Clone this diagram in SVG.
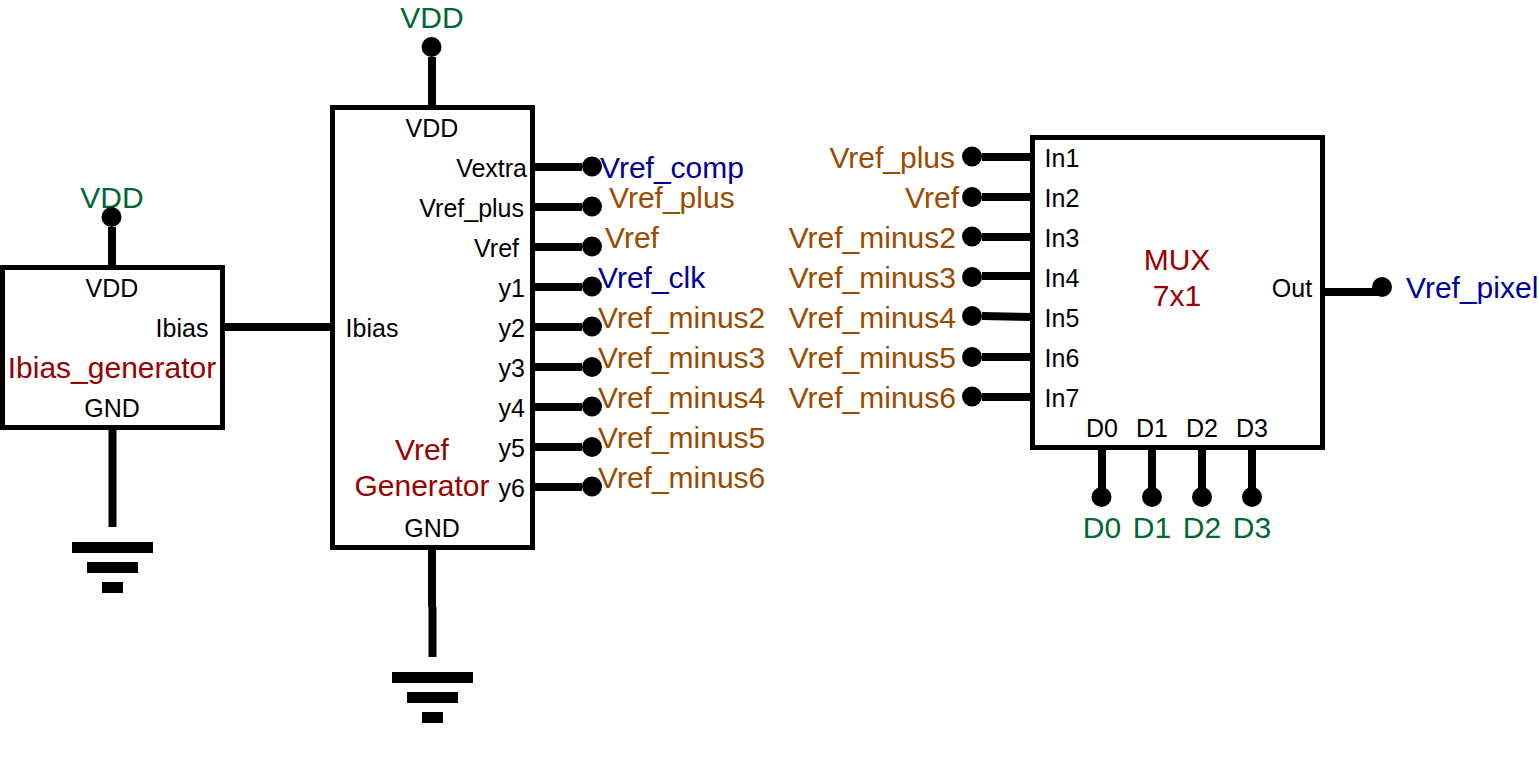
<svg xmlns="http://www.w3.org/2000/svg" width="1539" height="758" viewBox="0 0 1539 758">
<style>
text{font-family:"Liberation Sans",Arial,sans-serif}
.b{fill:#000;font-size:25px}
.l{fill:#000;font-size:25px}
.v{fill:#006633;font-size:30px;text-anchor:middle}
.o{fill:#994C00;font-size:30px}
.u{fill:#000099;font-size:30px}
.r{fill:#990000;font-size:30px;text-anchor:middle}
.m{text-anchor:middle}
.e{text-anchor:end}
.box{fill:#fff;stroke:#000;stroke-width:5}
.w{fill:none;stroke:#000;stroke-width:8}
.g{fill:#000;stroke:none}
circle{fill:#000}
</style>
<rect width="1539" height="758" fill="#fff"/>
<g id="connectors">
<path class="w" d="M112 227V267M224 327H272M272 327H332M112.500 427V477M112.500 477V527"/>
<path class="w" d="M432 57V107M432 547V607M432.500 607V657"/>
<path class="w" d="M532 167H582M532 207H582M532 247H582M532 287H582M532 327H582M532 367H582M532 407H582M532 447H582M532 487H582"/>
<path class="w" d="M982 157H1032M982 197H1032M982 237H1032M982 276H1032M982 316L1032 317M982 357H1032M982 397H1032"/>
<path class="w" d="M1322 292H1372M1102 447V497M1152 447V497M1202 447V497M1252 447V497"/>
<path class="w" d="M1322 292H1382"/>
</g>
<g id="ibias-generator">
<rect class="box" x="2.500" y="267.500" width="220" height="160"/>
<text class="l m" x="112" y="297">VDD</text>
<text class="l m" x="182" y="337">Ibias</text>
<text class="r" x="112" y="378">Ibias_generator</text>
<text class="l m" x="112" y="417">GND</text>
</g>
<g id="vref-generator">
<rect class="box" x="332.500" y="107.500" width="200" height="440"/>
<text class="l m" x="432" y="137">VDD</text>
<text class="l e" x="527" y="177">Vextra</text>
<text class="l e" x="524" y="217">Vref_plus</text>
<text class="l e" x="519" y="257">Vref</text>
<text class="l e" x="525" y="297">y1</text>
<text class="l e" x="525" y="337">y2</text>
<text class="l e" x="525" y="377">y3</text>
<text class="l e" x="525" y="417">y4</text>
<text class="l e" x="525" y="457">y5</text>
<text class="l e" x="525" y="497">y6</text>
<text class="l m" x="372" y="337">Ibias</text>
<text class="r" x="422" y="460">Vref</text>
<text class="r" x="422" y="496">Generator</text>
<text class="l m" x="432" y="537">GND</text>
</g>
<g id="mux">
<rect class="box" x="1032.500" y="137.500" width="290" height="310"/>
<text class="l m" x="1062" y="167">In1</text>
<text class="l m" x="1062" y="207">In2</text>
<text class="l m" x="1062" y="247">In3</text>
<text class="l m" x="1062" y="287">In4</text>
<text class="l m" x="1062" y="327">In5</text>
<text class="l m" x="1062" y="367">In6</text>
<text class="l m" x="1062" y="407">In7</text>
<text class="l m" x="1102" y="437">D0</text>
<text class="l m" x="1152" y="437">D1</text>
<text class="l m" x="1202" y="437">D2</text>
<text class="l m" x="1252" y="437">D3</text>
<text class="l m" x="1292" y="297">Out</text>
<text class="r" x="1177" y="270">MUX</text>
<text class="r" x="1177" y="306">7x1</text>
</g>
<g id="ground-1">
<rect class="g" x="72" y="542" width="81" height="11"/>
<rect class="g" x="87" y="562" width="51" height="11"/>
<rect class="g" x="102" y="582" width="21" height="11"/>
</g>
<g id="ground-2">
<rect class="g" x="392" y="672" width="81" height="11"/>
<rect class="g" x="407" y="692" width="51" height="11"/>
<rect class="g" x="422" y="712" width="21" height="11"/>
</g>
<g id="pin-vdd-ibias"><text class="v" x="112" y="208">VDD</text><circle cx="111.500" cy="217" r="10"/></g>
<g id="pin-vdd-vref"><text class="v" x="432" y="28">VDD</text><circle cx="431.500" cy="47" r="10"/></g>
<g id="pin-vref-comp"><circle cx="592" cy="166.500" r="10"/><text class="u" x="600" y="178">Vref_comp</text></g>
<g id="pin-vref-plus"><circle cx="592" cy="206.500" r="10"/><text class="o" x="609" y="208">Vref_plus</text></g>
<g id="pin-vref"><circle cx="592" cy="246.500" r="10"/><text class="o" x="605" y="248">Vref</text></g>
<g id="pin-vref-clk"><circle cx="592" cy="286.500" r="10"/><text class="u" x="598" y="288">Vref_clk</text></g>
<g id="pin-y2"><circle cx="592" cy="326.500" r="10"/><text class="o" x="598" y="328">Vref_minus2</text></g>
<g id="pin-y3"><circle cx="592" cy="367" r="10"/><text class="o" x="598" y="368">Vref_minus3</text></g>
<g id="pin-y4"><circle cx="592" cy="406.500" r="10"/><text class="o" x="598" y="408">Vref_minus4</text></g>
<g id="pin-y5"><circle cx="592" cy="447" r="10"/><text class="o" x="598" y="448">Vref_minus5</text></g>
<g id="pin-y6"><circle cx="592" cy="486.500" r="10"/><text class="o" x="598" y="488">Vref_minus6</text></g>
<g id="pin-in1"><circle cx="972" cy="156.500" r="10"/><text class="o e" x="955" y="168">Vref_plus</text></g>
<g id="pin-in2"><circle cx="972" cy="197" r="10"/><text class="o e" x="959" y="208">Vref</text></g>
<g id="pin-in3"><circle cx="972" cy="236.500" r="10"/><text class="o e" x="956" y="248">Vref_minus2</text></g>
<g id="pin-in4"><circle cx="972" cy="277" r="10"/><text class="o e" x="956" y="288">Vref_minus3</text></g>
<g id="pin-in5"><circle cx="972" cy="316" r="10"/><text class="o e" x="956" y="328">Vref_minus4</text></g>
<g id="pin-in6"><circle cx="972" cy="357" r="10"/><text class="o e" x="956" y="368">Vref_minus5</text></g>
<g id="pin-in7"><circle cx="972" cy="396.500" r="10"/><text class="o e" x="956" y="408">Vref_minus6</text></g>
<g id="pin-out"><circle cx="1382" cy="287" r="10"/><text class="u" x="1406" y="298">Vref_pixel</text></g>
<g id="pin-d0"><circle cx="1101.500" cy="497" r="10"/><text class="v" x="1102" y="538">D0</text></g>
<g id="pin-d1"><circle cx="1152" cy="497" r="10"/><text class="v" x="1152" y="538">D1</text></g>
<g id="pin-d2"><circle cx="1202" cy="497" r="10"/><text class="v" x="1202" y="538">D2</text></g>
<g id="pin-d3"><circle cx="1252" cy="497" r="10"/><text class="v" x="1252" y="538">D3</text></g>
</svg>
